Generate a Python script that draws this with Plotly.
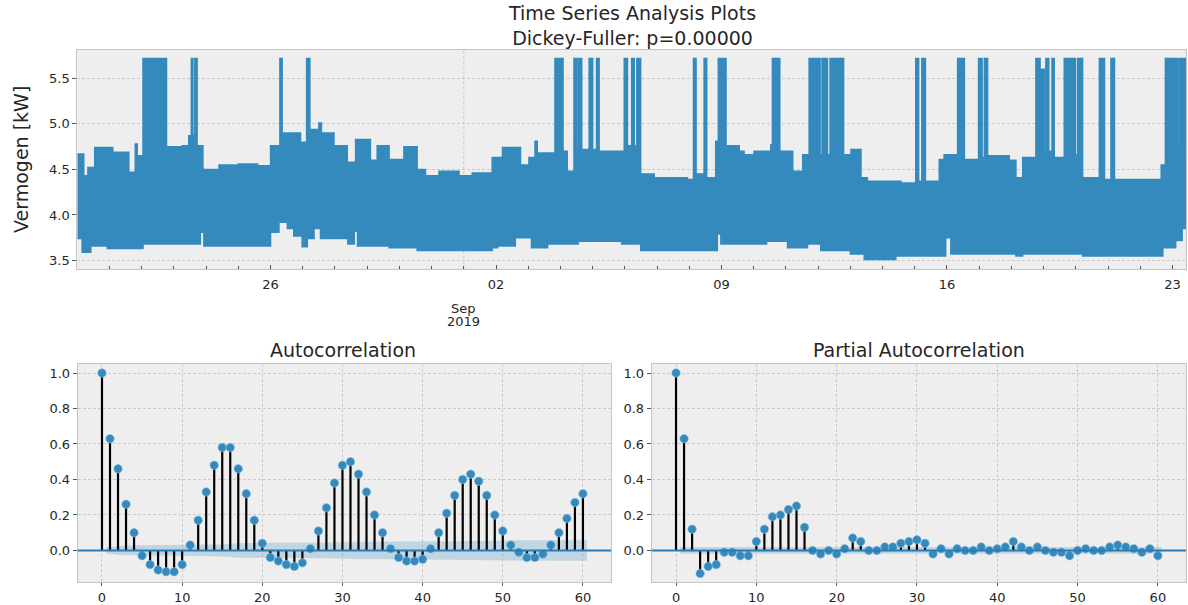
import pandas as pd
import plotly.graph_objects as go

# ---------------- data ----------------
START = pd.Timestamp("2019-08-20 00:00")
END_DAY = 34.42  # last sample, days after START

# upper envelope of the power series (step breakpoints: day offset, kW)
hi_day = [0.00, 0.20, 0.33, 0.54, 1.10, 1.60, 1.80, 1.86, 2.04, 2.77, 3.26, 3.46, 3.54, 3.59, 3.65,
          3.72, 3.90, 4.40, 5.00, 5.60, 6.00, 6.29, 6.36, 6.93, 7.12, 7.22, 7.50, 7.58, 7.97, 8.38,
          8.64, 9.10, 9.31, 9.68, 10.14, 10.55, 10.81, 11.23, 11.85, 12.26, 12.88, 13.20, 13.76,
          14.02, 14.21, 14.28, 14.83, 15.08, 15.21, 15.42, 15.50, 15.55, 15.66, 15.89, 16.00, 16.12,
          16.20, 16.98, 17.08, 17.21, 17.29, 17.37, 17.49, 17.91, 18.94, 19.13, 19.21, 19.46, 19.54,
          19.82, 19.90, 20.14, 20.18, 20.55, 20.70, 21.01, 21.53, 21.58, 21.81, 22.21, 22.52, 22.72,
          23.06, 23.12, 23.29, 23.37, 23.79, 24.02, 24.33, 24.53, 25.57, 26.03, 26.12, 26.22, 26.33,
          26.71, 26.76, 26.91, 27.33, 27.54, 27.98, 28.09, 28.16, 28.26, 28.93, 29.14, 29.35, 29.76,
          29.89, 30.02, 30.07, 30.16, 30.26, 30.33, 30.64, 30.99, 31.06, 31.21, 31.73, 31.89, 32.09,
          32.20, 33.65, 33.78, 34.17, 34.22, 34.30, 34.34]
hi_kw = [4.67, 4.43, 4.52, 4.74, 4.69, 4.47, 4.78, 4.65, 5.72, 4.75, 4.76, 4.87, 5.72, 4.87, 5.72,
         4.76, 4.50, 4.55, 4.56, 4.54, 4.76, 5.72, 4.90, 4.80, 5.72, 4.94, 5.01, 4.90, 4.76, 4.58,
         4.83, 4.60, 4.76, 4.61, 4.75, 4.50, 4.43, 4.48, 4.43, 4.46, 4.63, 4.74, 4.55,
         4.63, 4.81, 4.68, 5.72, 4.70, 4.48, 5.72, 4.72, 5.72, 4.72, 5.72, 4.72, 5.72,
         4.70, 5.72, 4.76, 5.72, 4.76, 5.72, 4.45, 4.41, 4.39, 5.72, 4.45, 5.72, 4.41,
         4.81, 5.72, 4.66, 4.76, 4.70, 4.66, 4.70, 4.77, 5.72, 4.70, 4.48, 4.66, 5.72,
         4.66, 5.72, 4.66, 5.72, 4.66, 4.72, 4.41, 4.37, 4.35, 5.72, 4.37, 5.72, 4.37,
         4.33, 4.61, 4.66, 5.72, 4.61, 5.72, 4.63, 5.72, 4.65, 4.60, 4.41, 4.63, 5.72,
         5.60, 4.66, 5.72, 4.70, 5.72, 4.63, 5.72, 4.66, 5.72, 4.41, 5.72, 4.39, 5.72,
         4.39, 4.55, 5.72, 4.77, 5.72, 4.66, 5.72]

# lower envelope of the power series (step breakpoints: day offset, kW)
lo_day = [0.00, 0.15, 0.42, 0.93, 2.04, 3.82, 3.93, 6.00, 6.26, 6.52, 6.72, 6.98, 7.14, 7.35, 7.55,
          8.40, 8.60, 8.70, 9.68, 10.55, 12.88, 13.05, 13.60, 14.10, 14.60, 15.55, 16.90, 17.49,
          19.87, 19.98, 21.40, 22.05, 22.67, 23.08, 24.00, 24.43, 25.41, 26.96, 27.12, 29.14, 29.35,
          31.21, 33.70, 34.10, 34.30]
lo_kw = [3.74, 3.59, 3.66, 3.63, 3.68, 3.81, 3.66, 3.81, 3.92, 3.85, 3.77, 3.65, 3.74, 3.85, 3.74,
         3.68, 3.82, 3.66, 3.64, 3.61, 3.64, 3.66, 3.75, 3.64, 3.68, 3.71, 3.68, 3.61,
         3.79, 3.68, 3.71, 3.64, 3.68, 3.61, 3.57, 3.51, 3.55, 3.75, 3.57, 3.55, 3.57,
         3.55, 3.64, 3.72, 3.85]

lags = list(range(61))
acf_vals = [1.00, 0.63, 0.46, 0.26, 0.10, -0.03, -0.08, -0.11, -0.12, -0.12, -0.08, 0.03, 0.17, 0.33,
            0.48, 0.58, 0.58, 0.46, 0.32, 0.17, 0.04, -0.04, -0.06, -0.08, -0.09, -0.07, 0.01, 0.11,
            0.24, 0.38, 0.48, 0.50, 0.43, 0.33, 0.20, 0.10, 0.01, -0.04, -0.06, -0.06, -0.05, 0.01,
            0.10, 0.21, 0.31, 0.40, 0.43, 0.39, 0.31, 0.20, 0.11, 0.03, -0.01, -0.04, -0.04, -0.02,
            0.03, 0.10, 0.18, 0.27, 0.32]
pacf_vals = [1.00, 0.63, 0.12, -0.13, -0.09, -0.08, -0.01, -0.01, -0.03, -0.03, 0.05, 0.12, 0.19,
             0.20, 0.23, 0.25, 0.13, 0.00, -0.02, 0.00, -0.02, 0.01, 0.07, 0.05, 0.00, 0.00, 0.02,
             0.02, 0.04, 0.05, 0.06, 0.04, -0.02, 0.01, -0.02, 0.01, 0.00, 0.00, 0.02, 0.00, 0.01,
             0.02, 0.05, 0.02, 0.00, 0.02, 0.00, -0.01, -0.01, -0.03, 0.00, 0.01, 0.00, 0.00, 0.02,
             0.03, 0.02, 0.01, -0.01, 0.01, -0.03]

# confidence band half-widths
acf_band_lag = [0.5, 1, 2, 3, 5, 10, 13, 15, 17, 20, 28, 32, 36, 44, 48, 52, 60, 60.5]
acf_band_half = [0.019, 0.019, 0.025, 0.028, 0.029, 0.030, 0.031, 0.034, 0.041, 0.043, 0.044,
                 0.049, 0.051, 0.052, 0.056, 0.057, 0.058, 0.058]
pacf_band_lag = [0.5, 60.5]
pacf_band_half = [0.019, 0.019]

date_ticks = ["2019-08-26", "2019-09-02", "2019-09-09", "2019-09-16", "2019-09-23"]
date_ticktext = ["26", "02", "09", "16", "23"]
acf_yticks = [0.0, 0.2, 0.4, 0.6, 0.8, 1.0]
lag_ticks = [0, 10, 20, 30, 40, 50, 60]

# ---------------- styling ----------------
W, H = 1188, 605
BLUE = "#348ABD"
ZERO = "#2a7bb6"
FONT = "DejaVu Sans"
TXT = "#262626"
GRID = dict(showgrid=True, gridcolor="#cbcbcb", griddash="3px,2px", gridwidth=1)
FRAME = dict(showline=True, mirror=True, linecolor="#c4c4c4", linewidth=1, zeroline=False)


def px_x(p):
    return p / W


def px_y(p):
    return 1 - p / H


def to_time(days):
    return [START + pd.Timedelta(days=d) for d in days]


fig = go.Figure()

# ---- top: time series (band between envelopes) ----
lo_x = to_time(lo_day + [END_DAY])
lo_y = lo_kw + [lo_kw[-1]]
hi_x = to_time(hi_day + [END_DAY])
hi_y = hi_kw + [hi_kw[-1]]
fig.add_trace(go.Scatter(x=lo_x, y=lo_y, mode="lines", line=dict(color=BLUE, width=1.5, shape="hv"),
                         xaxis="x", yaxis="y", showlegend=False, hoverinfo="skip"))
fig.add_trace(go.Scatter(x=hi_x, y=hi_y, mode="lines", line=dict(color=BLUE, width=1.5, shape="hv"),
                         fill="tonexty", fillcolor=BLUE, xaxis="x", yaxis="y", showlegend=False,
                         name="Vermogen"))


def corr_traces(vals, band_lag, band_half, xa, ya):
    bx = band_lag + band_lag[::-1]
    by = band_half + [-v for v in band_half[::-1]]
    fig.add_trace(go.Scatter(x=bx, y=by, fill="toself", fillcolor="rgba(52,138,189,0.25)",
                             line=dict(width=0), mode="lines", xaxis=xa, yaxis=ya,
                             showlegend=False, hoverinfo="skip"))
    sx, sy = [], []
    for l, v in zip(lags, vals):
        sx += [l, l, None]
        sy += [0, v, None]
    fig.add_trace(go.Scatter(x=sx, y=sy, mode="lines", line=dict(color="black", width=2.2),
                             xaxis=xa, yaxis=ya, showlegend=False, hoverinfo="skip"))
    fig.add_trace(go.Scatter(x=lags, y=vals, mode="markers",
                             marker=dict(color=BLUE, size=8.5, line=dict(color="#8fbfdf", width=0.6)),
                             xaxis=xa, yaxis=ya, showlegend=False))


corr_traces(acf_vals, acf_band_lag, acf_band_half, "x2", "y2")
corr_traces(pacf_vals, pacf_band_lag, pacf_band_half, "x3", "y3")

tickfont = dict(family=FONT, size=13, color=TXT)

top_dom_x = [px_x(77.3), px_x(1186)]
top_dom_y = [px_y(270), px_y(50)]
bot_dom_y = [px_y(584.3), px_y(365)]
acf_dom_x = [px_x(77.7), px_x(611)]
pacf_dom_x = [px_x(651.7), px_x(1186)]

# daily minor ticks on the date axis
day_ticks = pd.date_range(START, START + pd.Timedelta(days=END_DAY), freq="D")

fig.update_layout(
    width=W, height=H,
    margin=dict(l=0, r=0, t=0, b=0),
    paper_bgcolor="white", plot_bgcolor="#eeeeee",
    font=dict(family=FONT, color=TXT),
    showlegend=False,
    xaxis=dict(domain=top_dom_x, anchor="y", type="date",
               range=[START, START + pd.Timedelta(days=END_DAY)],
               tickmode="array", tickvals=date_ticks, ticktext=date_ticktext,
               ticks="inside", ticklen=4, tickcolor="#555", tickfont=tickfont,
               ticklabelstandoff=3, showgrid=False,
               minor=dict(tickmode="array", tickvals=list(day_ticks), ticks="inside",
                          ticklen=3, tickcolor="#555", showgrid=False),
               **FRAME),
    yaxis=dict(domain=top_dom_y, anchor="x", range=[3.405, 5.814], tick0=3.5, dtick=0.5,
               tickformat=".1f", ticks="outside", ticklen=4, tickcolor="#555",
               tickfont=tickfont, **GRID, **FRAME),
    xaxis2=dict(domain=acf_dom_x, anchor="y2", range=[-3.03, 63.5], tickmode="array",
                tickvals=lag_ticks, ticks="outside", ticklen=3, tickcolor="#555",
                tickfont=tickfont, **GRID, **FRAME),
    yaxis2=dict(domain=bot_dom_y, anchor="x2", range=[-0.18, 1.052], tickmode="array",
                tickvals=acf_yticks, tickformat=".1f", ticks="outside", ticklen=4,
                tickcolor="#555", tickfont=tickfont, **GRID, **FRAME),
    xaxis3=dict(domain=pacf_dom_x, anchor="y3", range=[-3.03, 63.5], tickmode="array",
                tickvals=lag_ticks, ticks="outside", ticklen=3, tickcolor="#555",
                tickfont=tickfont, **GRID, **FRAME),
    yaxis3=dict(domain=bot_dom_y, anchor="x3", range=[-0.18, 1.052], tickmode="array",
                tickvals=acf_yticks, tickformat=".1f", ticks="outside", ticklen=4,
                tickcolor="#555", tickfont=tickfont, **GRID, **FRAME),
)

# vertical gridline at the month boundary (major date tick)
fig.add_shape(type="line", xref="x", yref="y domain", x0="2019-09-01", x1="2019-09-01", y0=0, y1=1,
              line=dict(color="#cbcbcb", width=1, dash="3px,2px"), layer="below")
# zero lines in the correlation plots
for xa, ya in (("x2", "y2"), ("x3", "y3")):
    fig.add_shape(type="line", xref=f"{xa} domain", yref=ya, x0=0, x1=1, y0=0, y1=0,
                  line=dict(color=ZERO, width=2), layer="above")

title_font = dict(family=FONT, size=19, color=TXT)
ann = [
    dict(text="Time Series Analysis Plots<br>Dickey-Fuller: p=0.00000", x=px_x(631.5), y=px_y(26)),
    dict(text="Autocorrelation", x=px_x(342.5), y=px_y(351)),
    dict(text="Partial Autocorrelation", x=px_x(918.9), y=px_y(351)),
]
for a in ann:
    fig.add_annotation(xref="paper", yref="paper", showarrow=False, xanchor="center",
                       yanchor="middle", font=title_font, **a)

fig.add_annotation(text="Vermogen [kW]", xref="paper", yref="paper", x=px_x(21.5), y=px_y(160),
                   textangle=-90, showarrow=False, xanchor="center", yanchor="middle",
                   font=dict(family=FONT, size=19, color=TXT))
fig.add_annotation(text="Sep", xref="x", yref="paper", x="2019-09-01", y=px_y(309.5),
                   showarrow=False, xanchor="center", yanchor="middle", font=tickfont)
fig.add_annotation(text="2019", xref="x", yref="paper", x="2019-09-01", y=px_y(323),
                   showarrow=False, xanchor="center", yanchor="middle", font=tickfont)

fig.write_html("out.html")
